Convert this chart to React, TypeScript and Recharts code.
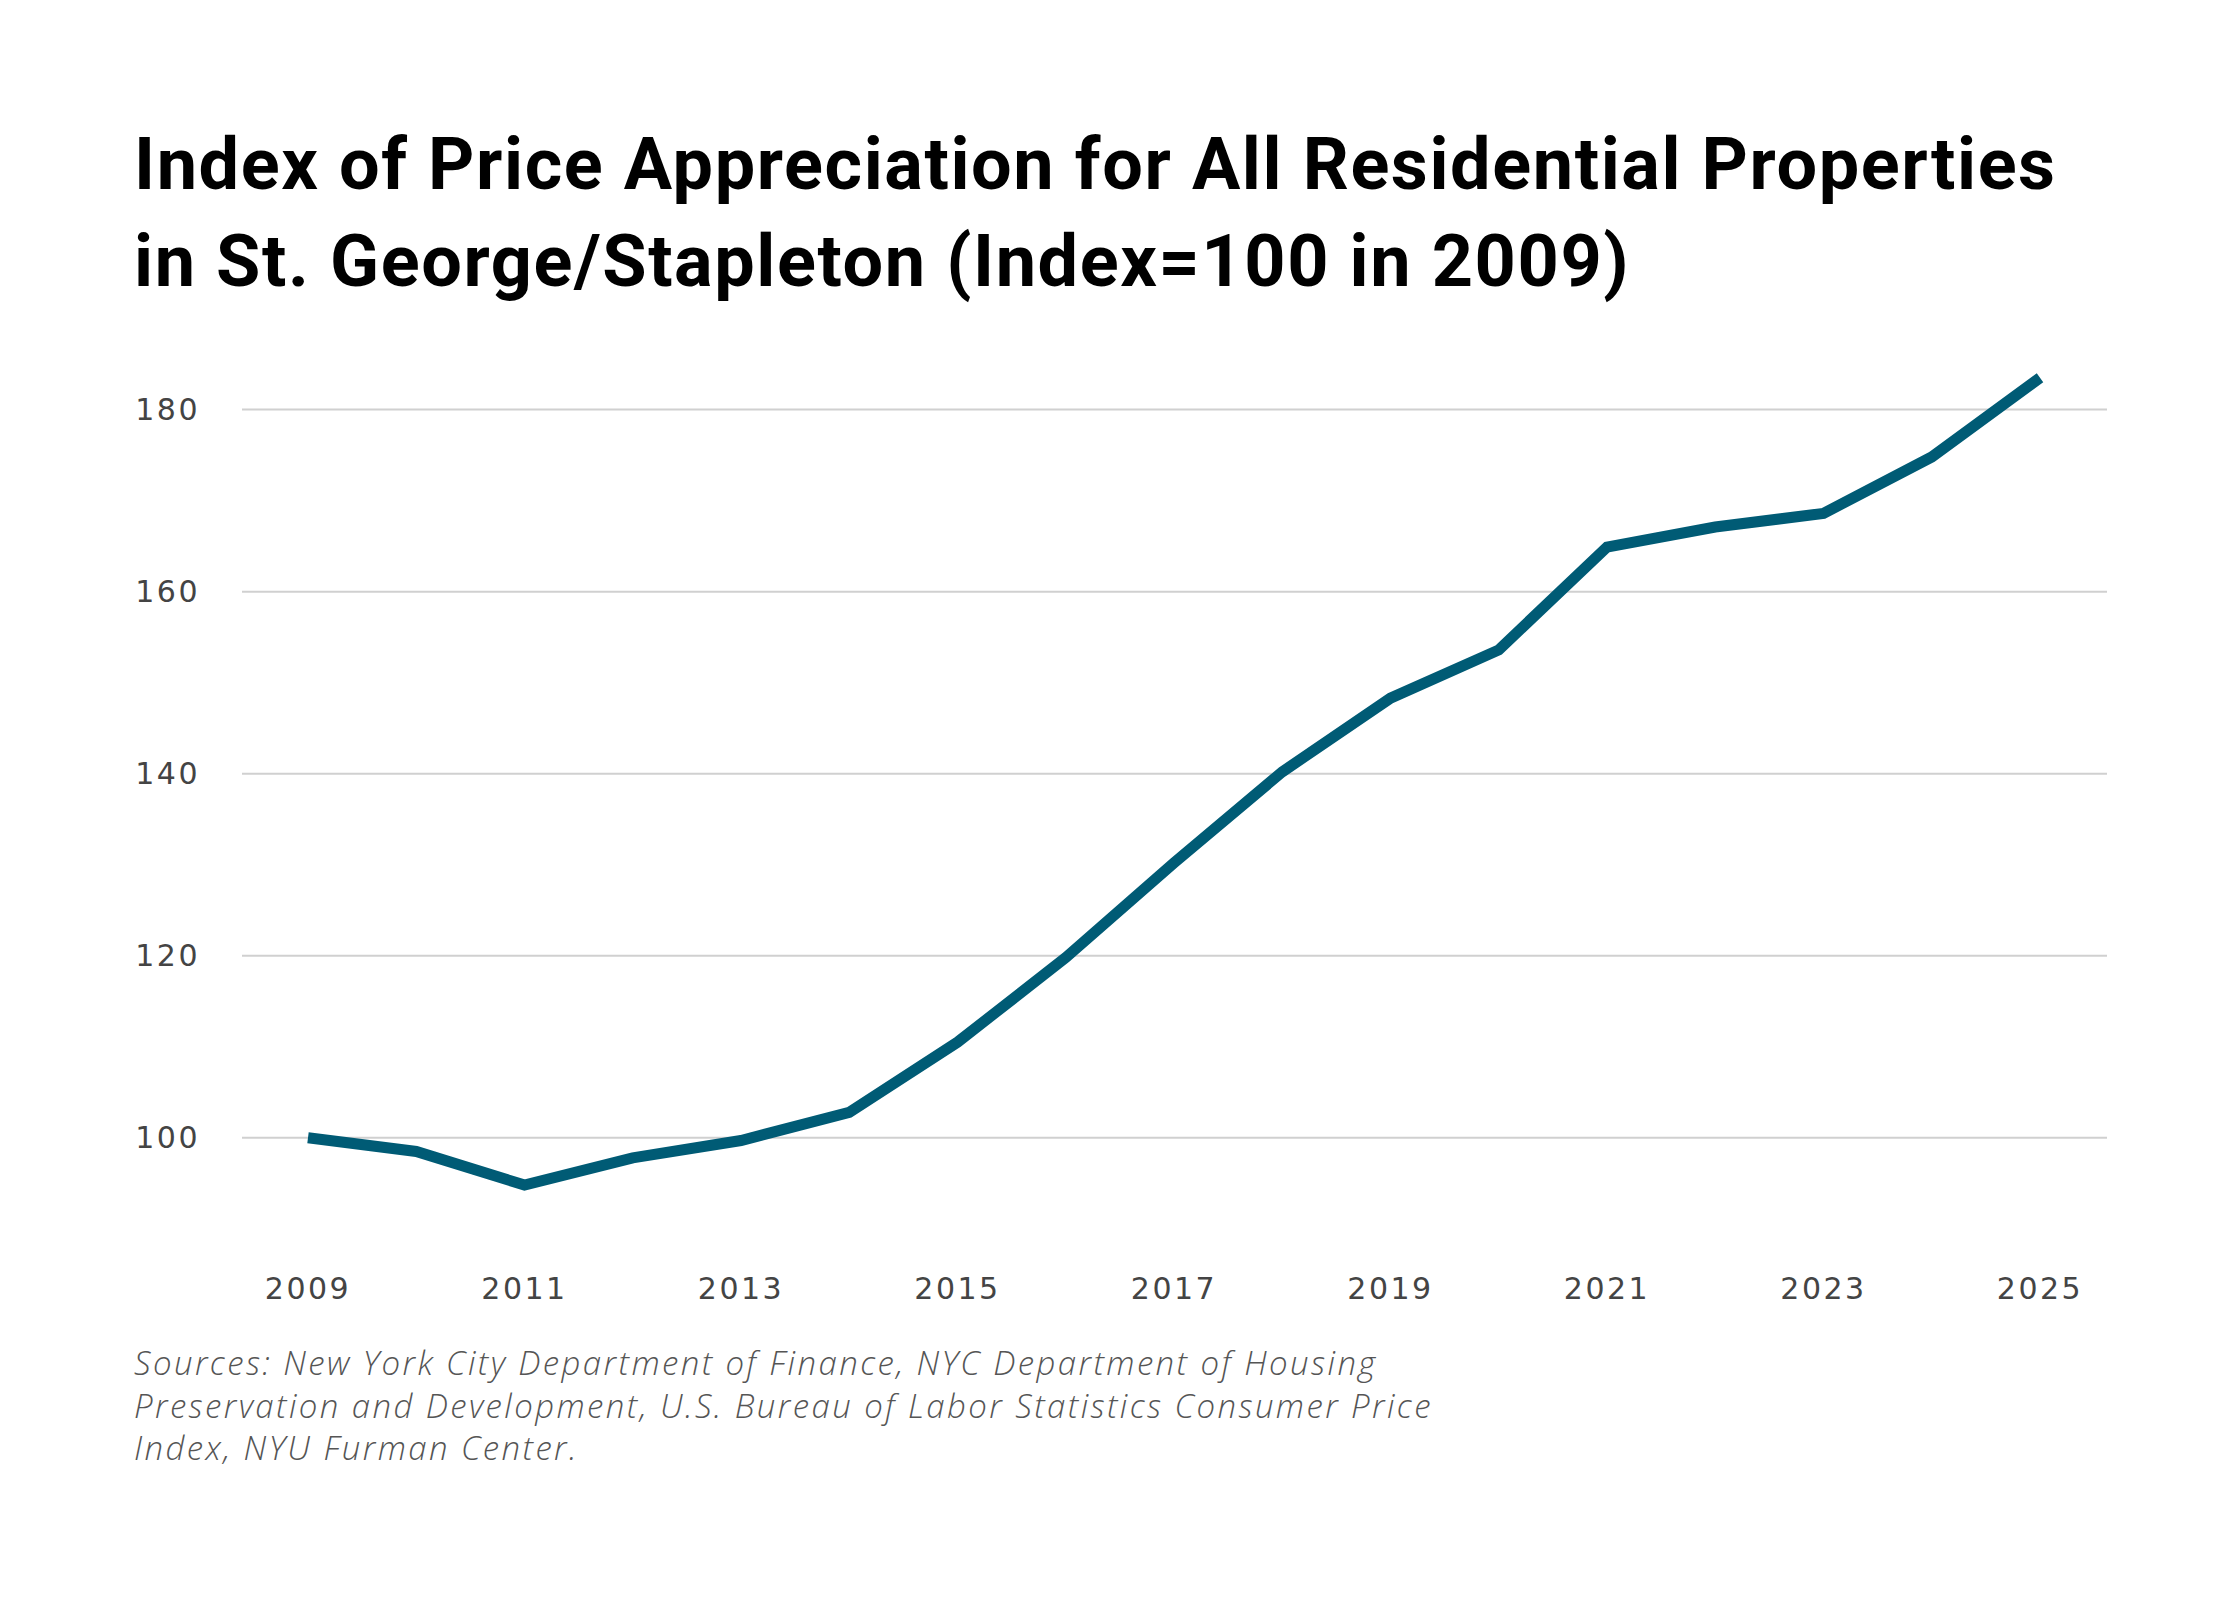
import React from "react";
import { LineChart, Line, XAxis, YAxis, ReferenceLine } from "recharts";

// Index values (2009 = 100)
const years = [2009, 2010, 2011, 2012, 2013, 2014, 2015, 2016, 2017, 2018, 2019, 2020, 2021, 2022, 2023, 2024, 2025];
const indexValues = [100, 98.5, 94.8, 97.8, 99.7, 102.8, 110.5, 119.8, 130.2, 140.2, 148.3, 153.6, 164.9, 167.1, 168.6, 174.8, 183.5];
const xTicks = [2009, 2011, 2013, 2015, 2017, 2019, 2021, 2023, 2025];
const yTicks = [100, 120, 140, 160, 180];

const titleLines = [
  "Index of Price Appreciation for All Residential Properties",
  "in St. George/Stapleton (Index=100 in 2009)",
];
const sourceLines = [
  "Sources: New York City Department of Finance, NYC Department of Housing",
  "Preservation and Development, U.S. Bureau of Labor Statistics Consumer Price",
  "Index, NYU Furman Center.",
];

const data = years.map((year, i) => ({ year, value: indexValues[i] }));

const tickStyle = {
  fill: "#444",
  fontSize: 30,
  fontFamily: "'DejaVu Sans', sans-serif",
  letterSpacing: 2.5,
};

export default function App() {
  return (
    <div
      style={{
        position: "absolute",
        left: 0,
        top: 0,
        width: 2240,
        height: 1600,
        background: "#fff",
        overflow: "hidden",
      }}
    >
      <div
        style={{
          position: "absolute",
          left: 134,
          top: 116,
          fontFamily: "Roboto, 'Noto Sans', sans-serif",
          fontWeight: 700,
          fontSize: 72,
          letterSpacing: 1.6,
          lineHeight: "97px",
          color: "#000",
          whiteSpace: "nowrap",
        }}
      >
        {titleLines.map((t) => (
          <div key={t}>{t}</div>
        ))}
      </div>

      <div style={{ position: "absolute", left: 0, top: 0 }}>
        <LineChart
          width={2240}
          height={1600}
          data={data}
          margin={{ top: 355, right: 133, bottom: 293, left: 142 }}
        >
          {yTicks.map((t) => (
            <ReferenceLine key={t} y={t} stroke="#d0d0d0" strokeWidth={2} />
          ))}
          <XAxis
            dataKey="year"
            type="number"
            domain={[2009, 2025]}
            ticks={xTicks}
            padding={{ left: 66, right: 67 }}
            axisLine={false}
            tickLine={false}
            tickSize={0}
            tickMargin={31}
            height={60}
            tick={tickStyle}
          />
          <YAxis
            domain={[88, 186]}
            ticks={yTicks}
            axisLine={false}
            tickLine={false}
            tickSize={0}
            tickMargin={42}
            width={100}
            tick={tickStyle}
          />
          <Line
            type="linear"
            dataKey="value"
            stroke="#005b75"
            strokeWidth={11}
            strokeLinejoin="miter"
            strokeLinecap="butt"
            dot={false}
            activeDot={false}
            isAnimationActive={false}
          />
        </LineChart>
      </div>

      <div
        style={{
          position: "absolute",
          left: 134,
          top: 1342,
          fontFamily: "'Open Sans', 'Noto Sans', sans-serif",
          fontStyle: "italic",
          fontWeight: 300,
          fontSize: 33,
          letterSpacing: 2.4,
          lineHeight: "42.5px",
          color: "#555",
          whiteSpace: "nowrap",
        }}
      >
        {sourceLines.map((t) => (
          <div key={t}>{t}</div>
        ))}
      </div>
    </div>
  );
}
